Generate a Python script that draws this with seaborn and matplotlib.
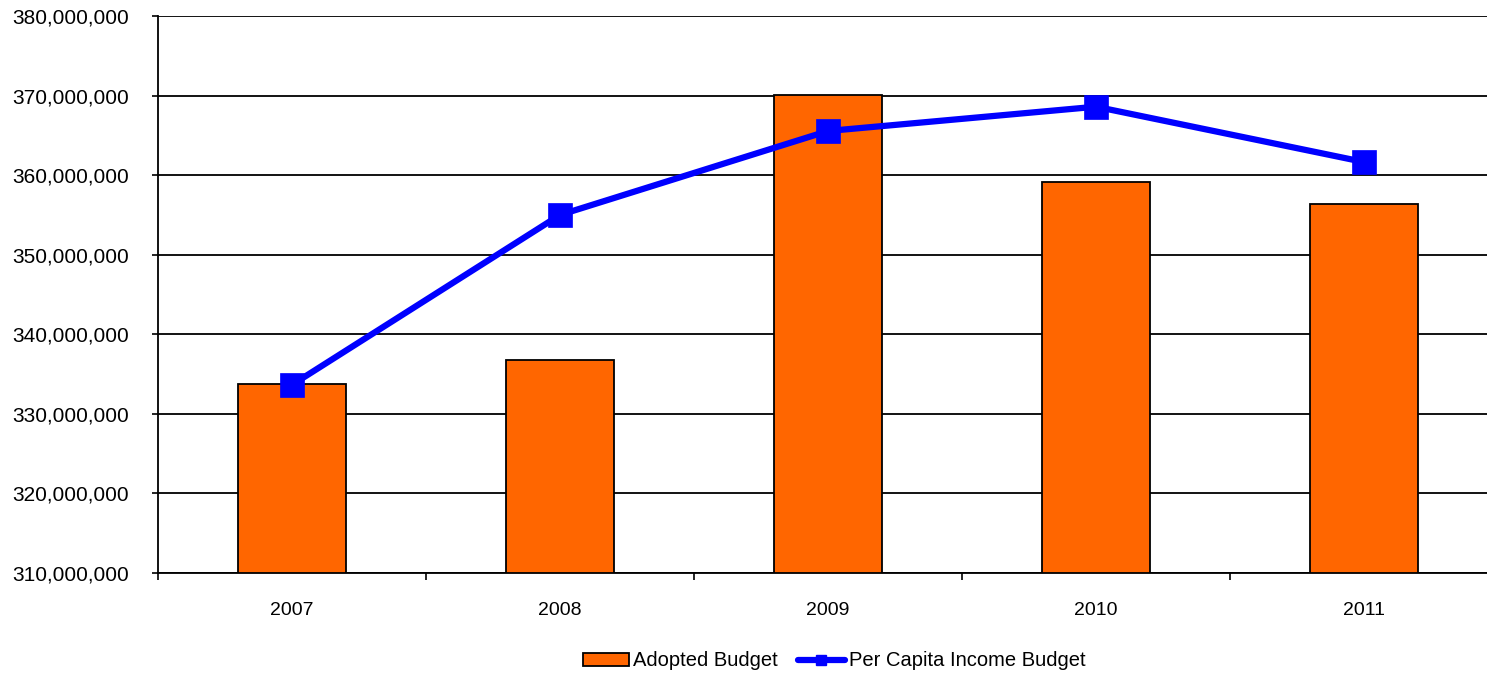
import matplotlib
matplotlib.use("Agg")
import matplotlib.pyplot as plt
import seaborn as sns
import pandas as pd
from matplotlib.patches import Patch
from matplotlib.lines import Line2D
from matplotlib.ticker import FuncFormatter, FixedLocator

years = ["2007", "2008", "2009", "2010", "2011"]
adopted_budget = [333.75e6, 336.8e6, 370.1e6, 359.15e6, 356.4e6]
per_capita_budget = [333.65e6, 355.0e6, 365.55e6, 368.6e6, 361.65e6]
y_ticks = [310e6, 320e6, 330e6, 340e6, 350e6, 360e6, 370e6, 380e6]

sns.set_theme(style="white")
plt.rcParams['font.family'] = ['Liberation Sans', 'DejaVu Sans']
plt.rcParams['text.color'] = 'black'

df = pd.DataFrame({"year": years, "adopted": adopted_budget, "percap": per_capita_budget})

fig = plt.figure(figsize=(14.87, 6.75), dpi=100)
ax = fig.add_axes([158/1487, 1 - 573/675, 1340/1487, (573 - 16)/675])

for yt in y_ticks:
    ax.axhline(yt, color="black", lw=1.3, zorder=0)

sns.barplot(data=df, x="year", y="adopted", color="#FF6600", saturation=1,
            width=0.405, edgecolor="black", linewidth=1.3, ax=ax, zorder=2)
sns.pointplot(data=df, x="year", y="percap", color="#0000FF", markers="s",
              markersize=15, linewidth=4.5, ax=ax, zorder=3)

ax.set_ylim(310e6, 380e6)
ax.set_xlim(-0.5, 4.5)
ax.set_yticks(y_ticks)
ax.yaxis.set_major_formatter(FuncFormatter(lambda v, p: f"{v:,.0f}"))
ax.set_xlabel("")
ax.set_ylabel("")

for s in ["top", "right"]:
    ax.spines[s].set_visible(False)
for s in ["left", "bottom"]:
    ax.spines[s].set_visible(True)
    ax.spines[s].set_color("black")
    ax.spines[s].set_linewidth(1.3)

ax.tick_params(axis="y", which="major", direction="out", length=4.5, width=1.2,
               color="black", pad=16.5, labelsize=15, labelcolor="black", left=True)
ax.tick_params(axis="x", which="major", length=0, pad=21, labelsize=14, labelcolor="black")
ax.xaxis.set_minor_locator(FixedLocator([-0.5, 0.5, 1.5, 2.5, 3.5, 4.5]))
ax.tick_params(axis="x", which="minor", direction="out", length=5, width=1.2,
               color="black", bottom=True)

handles = [
    Patch(facecolor="#FF6600", edgecolor="black", linewidth=1.3, label="Adopted Budget"),
    Line2D([0], [0], color="#0000FF", lw=4.5, marker="s", markersize=7, label="Per Capita Income Budget"),
]
leg = fig.legend(handles=handles, loc="center", bbox_to_anchor=(0.561, 0.021), ncol=2,
                 frameon=False, fontsize=14.5, handlelength=2.3, handletextpad=0.22,
                 columnspacing=1.0, handleheight=0.6)
for t in leg.get_texts():
    t.set_color("black")

fig.savefig("out.png", dpi=100)
